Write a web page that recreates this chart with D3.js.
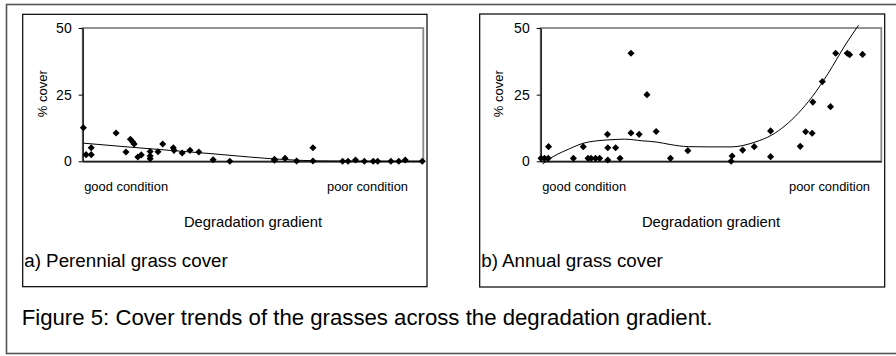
<!DOCTYPE html>
<html>
<head>
<meta charset="utf-8">
<script src="https://cdn.jsdelivr.net/npm/d3@7"></script>
<style>
  html, body { margin: 0; padding: 0; background: #fff; }
  svg { display: block; font-family: "Liberation Sans", Arial, sans-serif; }
</style>
</head>
<body>
<svg id="fig" width="896" height="356"></svg>
<script>
// Position of each site along the degradation gradient (0 = good, 100 = poor)
const perennialPos = [0.2, 1.0, 2.5, 2.5, 9.8, 12.7, 14.0, 14.7, 15.1, 16.2, 17.2, 19.8, 19.8, 19.8, 22.1,
  23.5, 26.6, 26.8, 29.2, 31.5, 34.1, 38.3, 43.2, 56.3, 56.3, 59.4, 62.8, 67.6, 67.6, 76.3,
  77.9, 80.1, 82.7, 85.3, 86.6, 90.5, 92.8, 94.7, 99.7];
// Perennial grass cover (%) at each site
const perennialCover = [12.6, 2.5, 2.5, 5.1, 10.6, 3.5, 8.3, 7.2, 6.5, 1.6, 2.4, 2.0, 3.7, 1.0, 3.6,
  6.5, 5.1, 4.1, 3.1, 4.1, 3.5, 0.6, 0, 0.75, 0.4, 1.1, 0.1, 5.1, 0.1, 0,
  0, 0.5, 0, 0, 0, 0, 0, 0.5, 0];
// Fitted trend for perennial cover
const perennialTrendPos = [0.2, 14, 25.6, 37.4, 49, 56, 63, 69, 78, 100];
const perennialTrend = [6.8, 5.3, 4.1, 2.9, 1.6, 0.9, 0.4, 0.15, 0.05, 0.05];

const annualPos = [0.1, 1.1, 2.2, 2.3, 9.6, 12.5, 13.9, 14.8, 16.1, 17.3, 19.6, 19.7, 19.7, 22.0, 23.3,
  26.5, 26.5, 28.9, 31.2, 33.9, 38.1, 43.2, 56.2, 55.9, 59.3, 62.7, 67.5, 67.5, 76.2, 77.8,
  79.7, 79.9, 82.7, 85.1, 86.6, 90.0, 90.7, 94.5];
// Annual grass cover (%) at each site
const annualCover = [1.1, 1.1, 1.1, 5.5, 1.1, 5.5, 1.1, 1.1, 1.1, 1.1, 10.1, 5.1, 0.5, 5.1, 1.1,
  40.5, 10.6, 10.1, 25, 11.2, 1.1, 4.0, 2.0, 0, 4.2, 5.5, 11.4, 1.75, 5.6, 11.1,
  10.5, 22.2, 29.9, 20.5, 40.5, 40.5, 40.0, 40.1];
// Fitted trend for annual cover
const annualTrendPos = [0.6, 3.3, 6.5, 9.5, 12.4, 15.9, 19.5, 24.7, 29.7, 34.1, 38.0, 43.3, 49.7,
  55.9, 62.9, 67.9, 75.6, 79.7, 84.4, 89.4, 93.3];
const annualTrend = [-1.0, 1.5, 3.6, 5.3, 6.75, 7.6, 8.0, 8.3, 7.7, 7.2, 6.3, 5.5, 5.4,
  5.4, 7.2, 9.9, 18, 24.2, 33, 43.6, 51];

const yTicks = [0, 25, 50];
const yTitle = "% cover";
const xTitle = "Degradation gradient";
const goodLabel = "good condition";
const poorLabel = "poor condition";
const panelTitles = ["a) Perennial grass cover", "b) Annual grass cover"];
const caption = "Figure 5: Cover trends of the grasses across the degradation gradient.";

const svg = d3.select("#fig");

// outer figure frame (right edge runs off the page)
svg.append("rect")
  .attr("x", 6.5).attr("y", 4.5).attr("width", 900).attr("height", 349)
  .attr("fill", "none").attr("stroke", "#555").attr("stroke-width", 1.6);

const panels = [
  { box: [22.7, 14.3, 427, 286.7], plot: [82.7, 423.3], yLabelX: 42.5, poorEnd: 408,
    pos: perennialPos, val: perennialCover, tPos: perennialTrendPos, tVal: perennialTrend, title: panelTitles[0] },
  { box: [479.7, 14.0, 884.7, 287], plot: [540.7, 881.3], yLabelX: 498, poorEnd: 870,
    pos: annualPos, val: annualCover, tPos: annualTrendPos, tVal: annualTrend, title: panelTitles[1] }
];

const yTop = 28, yBottom = 161.3;

panels.forEach(p => {
  const g = svg.append("g");
  const [bx0, by0, bx1, by1] = p.box;
  g.append("rect")
    .attr("x", bx0).attr("y", by0).attr("width", bx1 - bx0).attr("height", by1 - by0)
    .attr("fill", "#fff").attr("stroke", "#000").attr("stroke-width", 1.2);

  const x = d3.scaleLinear().domain([0, 100]).range(p.plot);
  const y = d3.scaleLinear().domain([0, 50]).range([yBottom, yTop]);

  // plot-area border (grey)
  g.append("rect")
    .attr("x", p.plot[0]).attr("y", y(50))
    .attr("width", p.plot[1] - p.plot[0]).attr("height", y(0) - y(50))
    .attr("fill", "none").attr("stroke", "#888").attr("stroke-width", 1.8);

  // value axis
  const yAxis = g.append("g")
    .attr("transform", `translate(${p.plot[0]},0)`)
    .call(d3.axisLeft(y).tickValues(yTicks).tickSize(4).tickSizeOuter(0).tickPadding(7));
  yAxis.select(".domain").attr("stroke", "#000").attr("stroke-width", 1.2);
  yAxis.selectAll(".tick line").attr("stroke", "#000");
  yAxis.selectAll(".tick text").attr("font-size", 14).attr("fill", "#000")
    .attr("font-family", "'Liberation Sans', Arial, sans-serif");

  // category axis line
  const xAxis = g.append("g")
    .attr("transform", `translate(0,${y(0)})`)
    .call(d3.axisBottom(x).tickValues([]).tickSizeOuter(0));
  xAxis.select(".domain").attr("stroke", "#000").attr("stroke-width", 1.2);

  // trend line
  const trend = p.tPos.map((d, i) => [d, p.tVal[i]]);
  g.append("path")
    .datum(trend)
    .attr("d", d3.line().x(d => x(d[0])).y(d => y(d[1])).curve(d3.curveMonotoneX))
    .attr("fill", "none").attr("stroke", "#000").attr("stroke-width", 1);

  // site markers
  const sym = d3.symbol().type(d3.symbolDiamond2).size(32);
  g.selectAll("path.pt")
    .data(p.pos.map((d, i) => [d, p.val[i]]))
    .join("path")
    .attr("class", "pt")
    .attr("transform", d => `translate(${x(d[0])},${y(d[1])})`)
    .attr("d", sym)
    .attr("fill", "#000");

  // axis text
  g.append("text")
    .attr("transform", `translate(${p.yLabelX},${(yTop + yBottom) / 2 - 1}) rotate(-90)`)
    .attr("text-anchor", "middle").attr("dominant-baseline", "central")
    .attr("font-size", 13).text(yTitle);

  g.append("text")
    .attr("x", p.plot[0] + 1.5).attr("y", 190.5)
    .attr("font-size", 12.9).text(goodLabel);
  g.append("text")
    .attr("x", p.poorEnd).attr("y", 190.5).attr("text-anchor", "end")
    .attr("font-size", 12.9).text(poorLabel);

  g.append("text")
    .attr("x", (p.plot[0] + p.plot[1]) / 2).attr("y", 226.5).attr("text-anchor", "middle")
    .attr("font-size", 14.8).text(xTitle);

  g.append("text")
    .attr("x", bx0 + 1.5).attr("y", 267).attr("font-size", 18.8).text(p.title);
});

svg.append("text")
  .attr("x", 21.7).attr("y", 324.5).attr("font-size", 22.2).text(caption);
</script>
</body>
</html>
